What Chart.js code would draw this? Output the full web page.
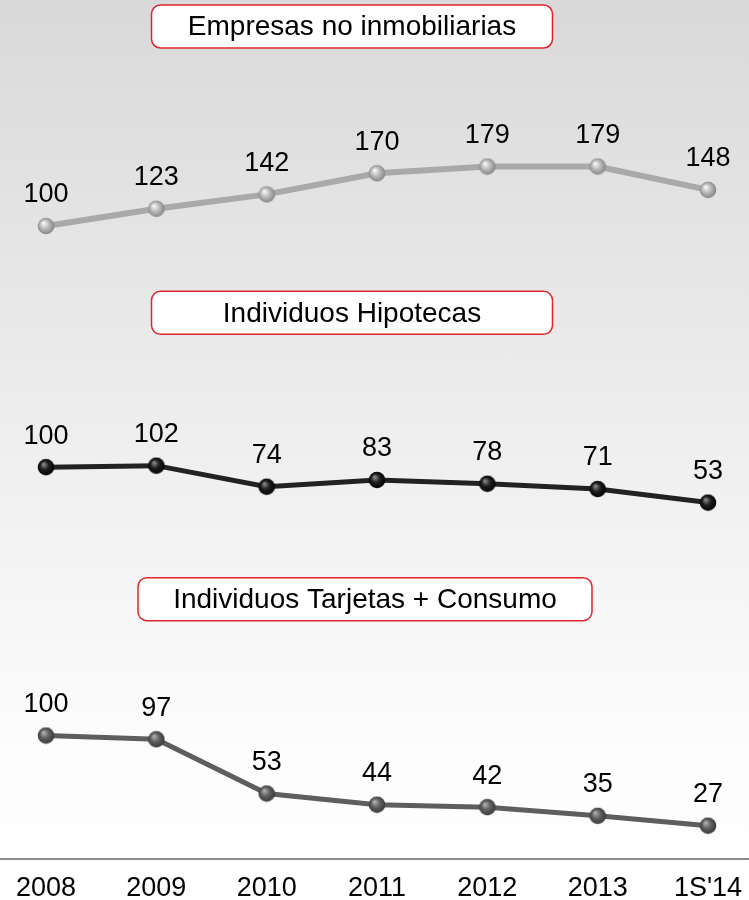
<!DOCTYPE html>
<html>
<head>
<meta charset="utf-8">
<script src="https://cdn.jsdelivr.net/npm/chart.js@4.4.1/dist/chart.umd.min.js"></script>
<style>
  html, body { margin: 0; padding: 0; }
  body {
    width: 749px;
    height: 900px;
    background: linear-gradient(to bottom, #d9d9d9 0px, #eeeeee 430px, #fdfdfd 760px, #ffffff 900px);
  }
  #wrap { position: relative; width: 749px; height: 900px; }
</style>
</head>
<body>
<div id="wrap"><canvas id="chart"></canvas></div>
<script>
const years = ["2008", "2009", "2010", "2011", "2012", "2013", "1S'14"];
const empresas = [100, 123, 142, 170, 179, 179, 148];
const hipotecas = [100, 102, 74, 83, 78, 71, 53];
const consumo = [100, 97, 53, 44, 42, 35, 27];
const panelTitles = ["Empresas no inmobiliarias", "Individuos Hipotecas", "Individuos Tarjetas + Consumo"];

const FONT = "'Liberation Sans', Arial, sans-serif";

// title box geometry per panel (center x, width)
const titleBoxes = [
  { axis: "yTop", cx: 352, w: 401 },
  { axis: "yMid", cx: 352, w: 401 },
  { axis: "yLow", cx: 365, w: 454 },
];

// small shaded ball used as point marker
const makeSphere = (light, base, dark) => {
  const c = document.createElement("canvas");
  c.width = 18;
  c.height = 18;
  const g = c.getContext("2d");
  const grad = g.createRadialGradient(6.5, 6, 0.5, 9, 9, 9);
  grad.addColorStop(0, light);
  grad.addColorStop(0.45, base);
  grad.addColorStop(1, dark);
  g.beginPath();
  g.arc(9, 9, 8.3, 0, Math.PI * 2);
  g.fillStyle = grad;
  g.fill();
  return c;
};

// ================= PLUGINS =================
const bottomRule = {
  id: "bottomRule",
  afterDraw(chart) {
    const { ctx, chartArea, width } = chart;
    ctx.save();
    ctx.strokeStyle = "#8a8a8a";
    ctx.lineWidth = 2;
    ctx.beginPath();
    ctx.moveTo(0, chartArea.bottom);
    ctx.lineTo(width, chartArea.bottom);
    ctx.stroke();
    ctx.restore();
  },
};

const panelTitleBoxes = {
  id: "panelTitleBoxes",
  beforeDatasetsDraw(chart) {
    const { ctx } = chart;
    titleBoxes.forEach((b, i) => {
      const scale = chart.scales[b.axis];
      const top = scale.top + 5;
      const h = 43;
      ctx.save();
      ctx.beginPath();
      ctx.roundRect(b.cx - b.w / 2, top, b.w, h, 9);
      ctx.fillStyle = "#ffffff";
      ctx.fill();
      ctx.lineWidth = 1.5;
      ctx.strokeStyle = "#e0242a";
      ctx.stroke();
      ctx.fillStyle = "#000";
      ctx.font = "28px " + FONT;
      ctx.textAlign = "center";
      ctx.textBaseline = "middle";
      ctx.fillText(panelTitles[i], b.cx, top + h / 2 + 1);
      ctx.restore();
    });
  },
};

const valueLabels = {
  id: "valueLabels",
  afterDatasetsDraw(chart) {
    const { ctx } = chart;
    ctx.save();
    ctx.fillStyle = "#000";
    ctx.font = "27px " + FONT;
    ctx.textAlign = "center";
    ctx.textBaseline = "middle";
    chart.data.datasets.forEach((ds, i) => {
      chart.getDatasetMeta(i).data.forEach((pt, j) => {
        ctx.fillText(String(ds.data[j]), pt.x, pt.y - 31);
      });
    });
    ctx.restore();
  },
};

// ================= CHART =================
const hiddenY = (weight, min, max) => ({
  type: "linear",
  display: false,
  stack: "panels",
  stackWeight: 1,
  weight,
  min,
  max,
});

new Chart(document.getElementById("chart"), {
  type: "line",
  data: {
    labels: years,
    datasets: [
      {
        data: empresas,
        yAxisID: "yTop",
        borderColor: "#a9a9a9",
        borderWidth: 6,
        pointStyle: makeSphere("#f8f8f8", "#bdbdbd", "#7e7e7e"),
      },
      {
        data: hipotecas,
        yAxisID: "yMid",
        borderColor: "#222222",
        borderWidth: 5,
        pointStyle: makeSphere("#8a8a8a", "#1e1e1e", "#000000"),
      },
      {
        data: consumo,
        yAxisID: "yLow",
        borderColor: "#5e5e5e",
        borderWidth: 5,
        pointStyle: makeSphere("#b0b0b0", "#616161", "#353535"),
      },
    ],
  },
  options: {
    responsive: true,
    maintainAspectRatio: false,
    animation: false,
    layout: {
      autoPadding: false,
      // negative bottom lets the year labels sit lower under the rule
      padding: { left: 46, right: 41, top: 0, bottom: -18 },
    },
    plugins: {
      legend: { display: false },
      tooltip: { enabled: false },
    },
    elements: {
      line: { tension: 0 },
      point: { radius: 8, hoverRadius: 0 },
    },
    scales: {
      x: {
        type: "category",
        grid: { display: false, drawTicks: false },
        border: { display: false },
        ticks: {
          color: "#000",
          padding: 4,
          maxRotation: 0,
          autoSkip: false,
          font: { size: 27, family: FONT, lineHeight: 1.89 },
        },
      },
      yTop: hiddenY(3, 20, 400),
      yMid: hiddenY(2, -40, 340),
      yLow: hiddenY(1, 0, 232),
    },
  },
  plugins: [panelTitleBoxes, valueLabels, bottomRule],
});
</script>
</body>
</html>
